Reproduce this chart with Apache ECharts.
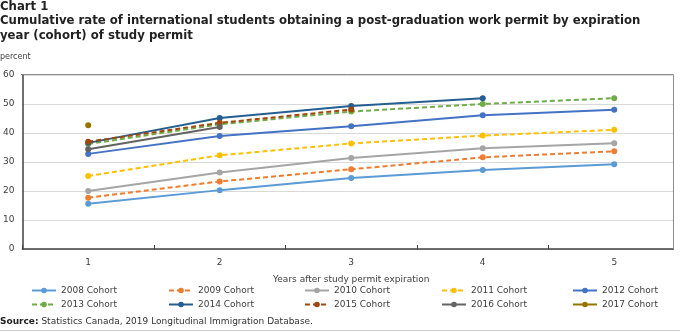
<!DOCTYPE html>
<html>
<head>
<meta charset="utf-8">
<script src="https://cdn.jsdelivr.net/npm/echarts@6/dist/echarts.min.js"></script>
<style>
html,body{margin:0;padding:0;background:#fff;}
#chart{width:680px;height:333px;}
</style>
</head>
<body>
<div id="chart"></div>
<script>
const categories = ['1', '2', '3', '4', '5'];
const yTicks = [0, 10, 20, 30, 40, 50, 60];
const cohortNames = ['2008 Cohort', '2009 Cohort', '2010 Cohort', '2011 Cohort', '2012 Cohort',
                     '2013 Cohort', '2014 Cohort', '2015 Cohort', '2016 Cohort', '2017 Cohort'];
const c2008 = [15.6, 20.3, 24.5, 27.2, 29.2];
const c2009 = [17.7, 23.3, 27.5, 31.6, 33.7];
const c2010 = [20.0, 26.4, 31.4, 34.7, 36.5];
const c2011 = [25.2, 32.3, 36.4, 39.1, 41.1];
const c2012 = [32.8, 39.0, 42.3, 46.1, 48.0];
const c2013 = [36.2, 43.0, 47.4, 50.0, 52.0];
const c2014 = [36.6, 45.2, 49.3, 52.0];
const c2015 = [37.0, 43.5, 48.1];
const c2016 = [34.4, 42.1];
const c2017 = [42.7];
const seriesValues = [c2008, c2009, c2010, c2011, c2012, c2013, c2014, c2015, c2016, c2017];

const colors = ['#5b9bd5', '#ed7d31', '#a5a5a5', '#ffc000', '#4472c4',
                '#70ad47', '#255e91', '#9e480e', '#636363', '#997300'];
const dashed = [false, true, false, true, false, true, false, true, false, false];

const FONT = '"DejaVu Sans", Verdana, sans-serif';
const TFONT = '"DejaVu Sans Condensed", "DejaVu Sans", sans-serif';

const series = cohortNames.map((name, i) => ({
  name: name,
  type: 'line',
  data: seriesValues[i],
  symbol: 'circle',
  symbolSize: 6,
  showSymbol: true,
  color: colors[i],
  lineStyle: { width: 2, type: dashed[i] ? [5, 3] : 'solid', color: colors[i] },
  itemStyle: { color: colors[i] },
  emphasis: { disabled: true },
  z: 3
}));

const legendCols = [31, 168, 304, 441, 572];
const legendRows = [286, 300];
const legends = cohortNames.map((name, i) => ({
  data: [name],
  left: legendCols[i % 5],
  top: legendRows[Math.floor(i / 5)],
  itemWidth: 24,
  itemHeight: 7,
  itemGap: 0,
  padding: 0,
  selectedMode: false,
  textStyle: { fontFamily: FONT, fontSize: 9, color: '#404040' }
}));

const chart = echarts.init(document.getElementById('chart'), null, { renderer: 'canvas' });
chart.setOption({
  animation: false,
  backgroundColor: '#ffffff',
  title: [
    { text: 'Chart 1', left: 0, top: 0, padding: 0,
      textStyle: { fontFamily: TFONT, fontWeight: 'bold', fontSize: 13, color: '#222' } },
    { text: 'Cumulative rate of international students obtaining a post-graduation work permit by expiration\nyear (cohort) of study permit',
      left: 0, top: 13, padding: 0,
      textStyle: { fontFamily: TFONT, fontWeight: 'bold', fontSize: 13, lineHeight: 15, color: '#222' } },
    { text: 'percent', left: 0, top: 53, padding: 0,
      textStyle: { fontFamily: FONT, fontSize: 8, fontWeight: 'normal', color: '#404040' } },
    { text: '{b|Source:} {n|Statistics Canada, 2019 Longitudinal Immigration Database.}',
      left: 0, top: 317, padding: 0,
      textStyle: { fontFamily: FONT, fontSize: 9, fontWeight: 'normal', color: '#333',
        rich: { b: { fontFamily: FONT, fontSize: 9, fontWeight: 'bold', color: '#222' },
                n: { fontFamily: FONT, fontSize: 9, color: '#333' } } } }
  ],
  legend: legends,
  grid: { left: 21, right: 0, top: 75, bottom: 84, containLabel: false },
  xAxis: {
    type: 'category',
    data: categories,
    boundaryGap: true,
    name: 'Years after study permit expiration',
    nameLocation: 'middle',
    nameGap: 26,
    nameTextStyle: { fontFamily: FONT, fontSize: 9, color: '#404040' },
    axisLine: { lineStyle: { color: '#404040', width: 1.5 } },
    axisTick: { show: true, inside: true, length: 4, lineStyle: { color: '#404040' } },
    axisLabel: { fontFamily: FONT, fontSize: 9, color: '#404040', margin: 9 },
    splitLine: { show: false }
  },
  yAxis: {
    type: 'value',
    min: yTicks[0],
    max: yTicks[yTicks.length - 1],
    interval: 10,
    axisLine: { show: true, lineStyle: { color: '#404040', width: 1.5 } },
    axisTick: { show: false },
    axisLabel: { fontFamily: FONT, fontSize: 9, color: '#404040', margin: 8 },
    splitLine: { show: true, lineStyle: { color: '#d9d9d9', width: 1 } }
  },
  graphic: [
    { type: 'rect', z: 100, silent: true,
      shape: { x: 674, y: 60, width: 10, height: 195 }, style: { fill: '#ffffff' } },
    { type: 'line', z: 101, silent: true,
      shape: { x1: 21, y1: 74.5, x2: 673.5, y2: 74.5 }, style: { stroke: '#8c8c8c', lineWidth: 1 } },
    { type: 'line', z: 101, silent: true,
      shape: { x1: 673.5, y1: 74.5, x2: 673.5, y2: 249 }, style: { stroke: '#8c8c8c', lineWidth: 1 } },
    { type: 'line', z: 101, silent: true,
      shape: { x1: 0, y1: 330.5, x2: 680, y2: 330.5 }, style: { stroke: '#cccccc', lineWidth: 1 } }
  ],
  series: series
});
</script>
</body>
</html>
